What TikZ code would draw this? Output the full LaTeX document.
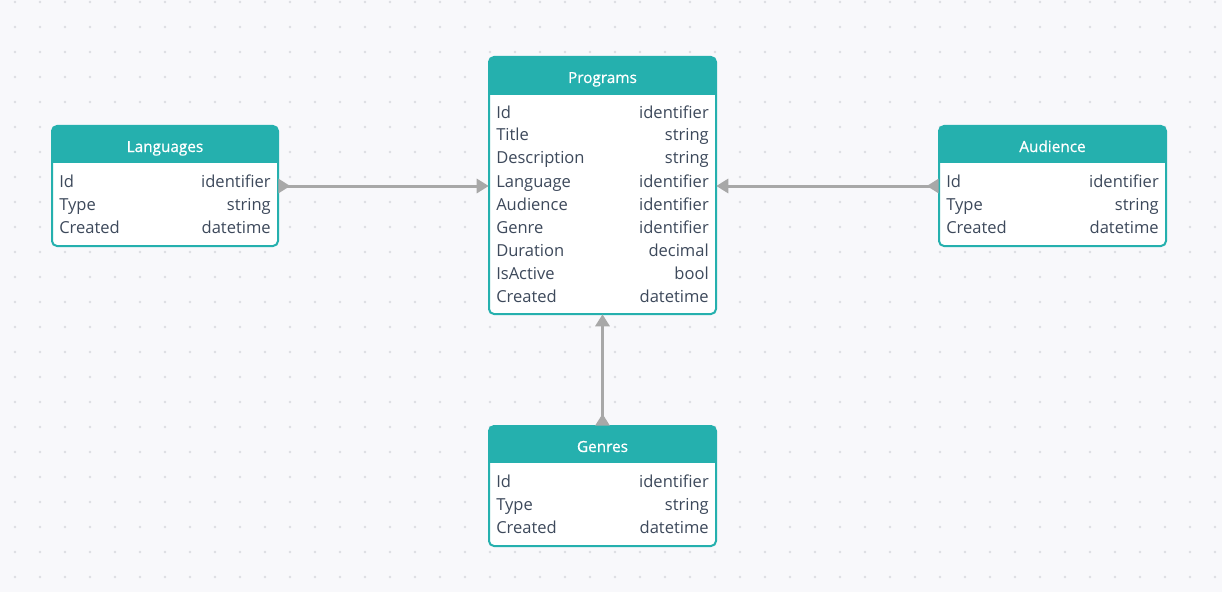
\documentclass[tikz,border=0pt]{standalone}
\usepackage{fontspec}
\setmainfont{Open Sans}
\newfontfamily\erheadfont{Open Sans}[FakeBold=0.7]
\usetikzlibrary{arrows.meta,fit}
\definecolor{bg}{HTML}{F8F8FB}
\definecolor{erteal}{HTML}{25B0AE}
\definecolor{ertext}{HTML}{3D495B}
\definecolor{erdot}{HTML}{DCDDE2}
\definecolor{erline}{HTML}{A8A8A8}
\newcommand\erbox[7]{%
  \begin{scope}
    \clip[rounded corners=3.75pt] (#2,#3) rectangle (#4,#5);
    \fill[white] (#2,#3) rectangle (#4,#5);
    \fill[erteal] (#2,#3) rectangle (#4,#6);
  \end{scope}
  \draw[erteal, line width=1.5pt, rounded corners=3.75pt] (#2,#3) rectangle (#4,#5);
  \node[inner sep=0pt, fit={(#2,#3)(#4,#5)}] (#1) {};
  \node[titletext] (#1-title) at ({(#2+#4)/2},{#3+26}) {#7};
}
\tikzset{
  titletext/.style={text=white, font=\erheadfont\fontsize{11.5pt}{14pt}\selectfont, inner sep=0pt, anchor=base},
  rowl/.style={text=ertext, font=\fontsize{12.4pt}{14pt}\selectfont, inner sep=0pt, anchor=base west},
  rowr/.style={text=ertext, font=\fontsize{12.4pt}{14pt}\selectfont, inner sep=0pt, anchor=base east},
  conn/.style={draw=erline, line width=2.25pt,
    {Triangle[reversed, length=9pt, width=10.5pt]}-{Triangle[length=9pt, width=10.5pt]}}
}
\begin{document}
\begin{tikzpicture}[x=0.75pt,y=-0.75pt]
\fill[bg] (0,0) rectangle (1222,592);
\useasboundingbox (0,0) rectangle (1222,592);
\foreach \i in {0,...,48} {
  \foreach \j in {0,...,23} {
    \fill[erdot] ({15+25*\i},{2+25*\j}) circle (1.1pt);
  }
}
% Languages
\erbox{lang}{52}{126}{278}{246}{163}{Languages}
\foreach [count=\i] \a/\b in {Id/identifier, Type/string, Created/datetime} {
  \node[rowl] (lang-l\i) at (59,{187+23*(\i-1)}) {\a};
  \node[rowr] (lang-r\i) at (271,{187+23*(\i-1)}) {\b};
}
% Programs
\erbox{prog}{489}{57}{716}{314}{95}{Programs}
\foreach [count=\i] \a/\b in {Id/identifier, Title/string, Description/string, Language/identifier, Audience/identifier, Genre/identifier, Duration/decimal, IsActive/bool, Created/datetime} {
  \node[rowl] (prog-l\i) at (496,{118+23*(\i-1)}) {\a};
  \node[rowr] (prog-r\i) at (709,{118+23*(\i-1)}) {\b};
}
% Audience
\erbox{aud}{939}{126}{1166}{246}{163}{Audience}
\foreach [count=\i] \a/\b in {Id/identifier, Type/string, Created/datetime} {
  \node[rowl] (aud-l\i) at (946,{187+23*(\i-1)}) {\a};
  \node[rowr] (aud-r\i) at (1159,{187+23*(\i-1)}) {\b};
}
% Genres
\erbox{gen}{489}{426}{716}{546}{463}{Genres}
\foreach [count=\i] \a/\b in {Id/identifier, Type/string, Created/datetime} {
  \node[rowl] (gen-l\i) at (496,{487+23*(\i-1)}) {\a};
  \node[rowr] (gen-r\i) at (709,{487+23*(\i-1)}) {\b};
}
% connectors
\draw[conn] (lang.east) -- (prog.west |- lang.east);
\draw[conn] (aud.west) -- (prog.east |- aud.west);
\draw[conn] (gen.north) -- (prog.south);
\end{tikzpicture}
\end{document}
